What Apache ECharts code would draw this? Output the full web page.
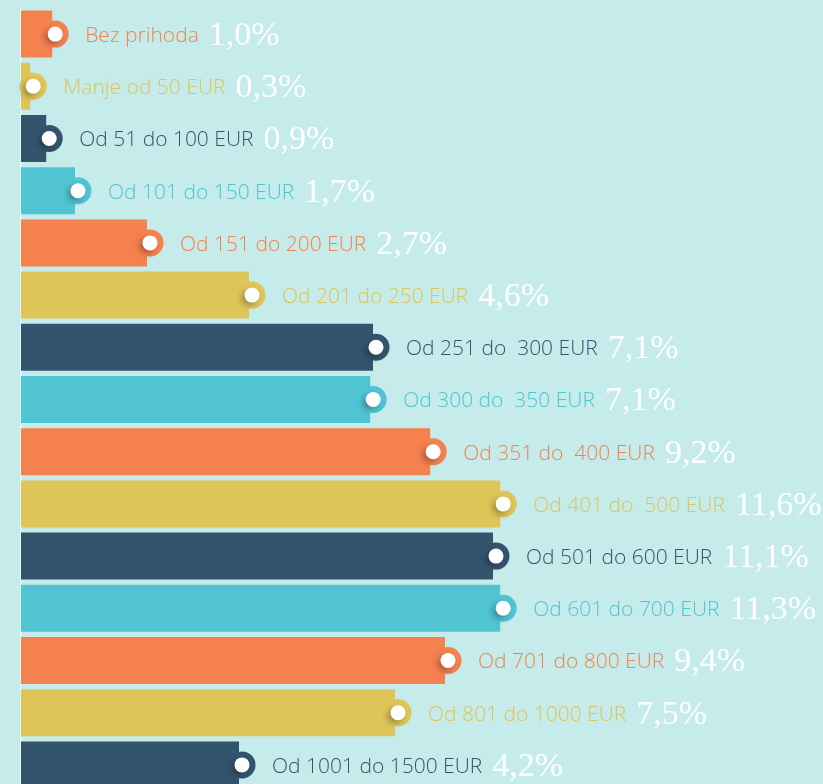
<!DOCTYPE html>
<html>
<head>
<meta charset="utf-8">
<script src="https://cdn.jsdelivr.net/npm/echarts@6/dist/echarts.min.js"></script>
<style>
  html, body { margin: 0; padding: 0; background: #c5ecea; overflow: hidden; }
  #chart { width: 823px; height: 800px; }
</style>
</head>
<body>
<div id="chart"></div>
<script>
// Income brackets (top to bottom)
const categories = [
  'Bez prihoda', 'Manje od 50 EUR', 'Od 51 do 100 EUR', 'Od 101 do 150 EUR',
  'Od 151 do 200 EUR', 'Od 201 do 250 EUR', 'Od 251 do  300 EUR', 'Od 300 do  350 EUR',
  'Od 351 do  400 EUR', 'Od 401 do  500 EUR', 'Od 501 do 600 EUR', 'Od 601 do 700 EUR',
  'Od 701 do 800 EUR', 'Od 801 do 1000 EUR', 'Od 1001 do 1500 EUR'
];
// Shares printed next to each bar (%)
const shares = [1.0, 0.3, 0.9, 1.7, 2.7, 4.6, 7.1, 7.1, 9.2, 11.6, 11.1, 11.3, 9.4, 7.5, 4.2];
// Drawn bar lengths (infographic scale, not proportional to shares)
const barLengths = [0.78, 0.23, 0.63, 1.35, 3.15, 5.7, 8.8, 8.73, 10.23, 11.98, 11.8, 11.98, 10.6, 9.35, 5.45];
// Colour cycle
const palette = ['#f5814f', '#dfc457', '#34546e', '#51c4d4'];

const fmtShare = v => v.toFixed(1).replace('.', ',') + '%';

const rich = {
  p: {
    color: '#ffffff', fontFamily: 'Liberation Serif', fontSize: 34,
    verticalAlign: 'middle', padding: [0, 0, 0, 10]
  }
};
palette.forEach((c, k) => {
  rich['a' + k] = {
    color: c, fontFamily: 'Open Sans', fontWeight: 300, fontSize: 21,
    verticalAlign: 'middle'
  };
});

const chart = echarts.init(document.getElementById('chart'));
chart.setOption({
  animation: false,
  backgroundColor: '#c5ecea',
  grid: { left: 21, top: 8, width: 480, height: 783 },
  xAxis: { type: 'value', min: 0, max: 12, show: false },
  yAxis: {
    type: 'category', inverse: true, data: categories, offset: 1,
    axisLabel: { show: false }, axisTick: { show: false }, splitLine: { show: false },
    axisLine: { show: true, lineStyle: { color: 'rgba(255,255,255,0.6)', width: 1.5 } }
  },
  series: [
    {
      type: 'bar', barWidth: 47, z: 2,
      data: barLengths.map((v, i) => ({ value: v, itemStyle: { color: palette[i % 4] } })),
      label: {
        show: true, position: 'right', distance: 33, offset: [0, 2],
        formatter: p => '{a' + (p.dataIndex % 4) + '|' + categories[p.dataIndex] + '}{p|' + fmtShare(shares[p.dataIndex]) + '}',
        rich: rich
      }
    },
    {
      type: 'scatter', z: 3, symbol: 'circle', symbolSize: 27, symbolOffset: [3, 0],
      itemStyle: { opacity: 1 },
      data: barLengths.map((v, i) => ({ value: [v, i], itemStyle: { color: palette[i % 4], opacity: 1 } })),
      silent: true
    },
    {
      type: 'scatter', z: 4, symbol: 'circle', symbolSize: 15, symbolOffset: [3, 0],
      itemStyle: {
        color: '#ffffff', opacity: 1, shadowColor: 'rgba(0,0,0,0.3)', shadowBlur: 6,
        shadowOffsetX: -3, shadowOffsetY: 3
      },
      data: barLengths.map((v, i) => [v, i]),
      silent: true
    }
  ]
});
</script>
</body>
</html>
